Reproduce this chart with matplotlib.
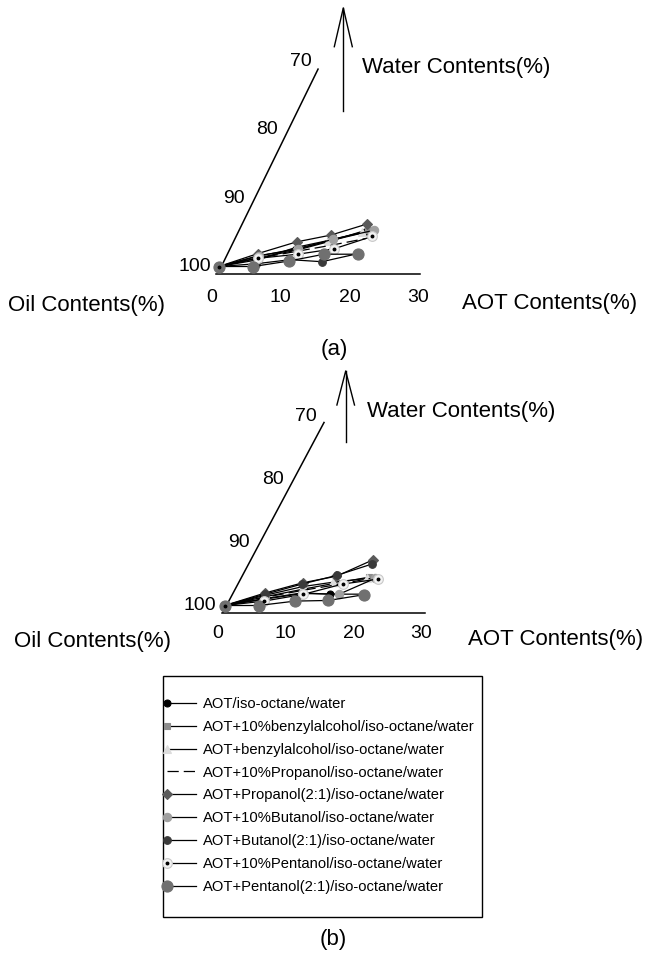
import numpy as np
import matplotlib
matplotlib.use("Agg")
import matplotlib.pyplot as plt
from matplotlib.lines import Line2D
from matplotlib.patches import Rectangle
from matplotlib.legend_handler import HandlerLine2D

plt.rcParams["font.family"] = ["Liberation Sans", "DejaVu Sans"]

W_PX, H_PX = 645, 968

LABELS = [
    "AOT/iso-octane/water",
    "AOT+10%benzylalcohol/iso-octane/water",
    "AOT+benzylalcohol/iso-octane/water",
    "AOT+10%Propanol/iso-octane/water",
    "AOT+Propanol(2:1)/iso-octane/water",
    "AOT+10%Butanol/iso-octane/water",
    "AOT+Butanol(2:1)/iso-octane/water",
    "AOT+10%Pentanol/iso-octane/water",
    "AOT+Pentanol(2:1)/iso-octane/water",
]
OIL_TICKS = [100, 90, 80, 70]
AOT_TICKS = [0, 10, 20, 30]

# panel (a): AOT content and water content of each point
AOT_A = [
    [1, 6.7, 12.2, 17.3, 22.3],
    [1, 6.8, 12.4, 17.2, 22.7],
    [1, 6.8, 12.2, 16.9, 21.8],
    [1, 6.7, 12.2, 17.3, 22.4],
    [1, 6.7, 12.3, 17.3, 22.5],
    [1, 6.8, 12.5, 17.6, 23.6],
    [1, 6.4, 11.4, 16.0, 21.3],
    [1, 6.7, 12.5, 17.8, 23.3],
    [1, 6.0, 11.2, 16.3, 21.3],
]
WATER_A = [
    [0, 1.5, 2.6, 3.8, 5.0],
    [0, 1.3, 2.4, 3.7, 5.4],
    [0, 1.0, 2.8, 3.8, 5.0],
    [0, 1.2, 2.2, 3.1, 4.1],
    [0, 1.9, 3.6, 4.6, 6.2],
    [0, 1.6, 2.5, 4.0, 5.3],
    [0, 0.4, 1.0, 0.7, 1.9],
    [0, 1.2, 1.8, 2.6, 4.4],
    [0, 0.0, 0.8, 1.8, 1.8],
]

# panel (b)
AOT_B = [
    [1, 6.9, 12.4, 16.6, 21.5],
    [1, 7.0, 12.6, 17.6, 22.3],
    [1, 6.9, 12.5, 17.0, 22.0],
    [1, 6.9, 12.5, 17.5, 22.5],
    [1, 7.0, 12.5, 17.5, 22.9],
    [1, 6.9, 12.4, 17.9, 23.2],
    [1, 7.0, 12.4, 17.6, 22.8],
    [1, 6.8, 12.5, 18.4, 23.7],
    [1, 6.0, 11.4, 16.3, 21.5],
]
WATER_B = [
    [0, 1.1, 2.0, 1.8, 1.8],
    [0, 1.4, 2.6, 3.6, 4.5],
    [0, 1.6, 3.0, 3.7, 4.3],
    [0, 1.3, 2.4, 3.3, 4.3],
    [0, 2.0, 3.6, 4.65, 7.25],
    [0, 1.0, 1.9, 1.8, 4.3],
    [0, 1.8, 3.4, 4.8, 6.6],
    [0, 0.7, 1.75, 3.4, 4.2],
    [0, 0.0, 0.7, 0.8, 1.7],
]

STYLES = [
    dict(marker="o", mfc="black", mec="black", ms=5),
    dict(marker="s", mfc="#8c8c8c", mec="#8c8c8c", ms=5),
    dict(marker="^", mfc="#dcdcdc", mec="#dcdcdc", ms=6),
    dict(marker="None", ls=(0, (9, 4))),
    dict(marker="D", mfc="#5a5a5a", mec="#5a5a5a", ms=5.5),
    dict(marker="o", mfc="#a0a0a0", mec="#a0a0a0", ms=6),
    dict(marker="o", mfc="#3a3a3a", mec="#3a3a3a", ms=5.5),
    dict(marker="o", mfc="#f2f2f2", mec="#c8c8c8", ms=7),
    dict(marker="o", mfc="#707070", mec="#707070", ms=8),
]
DOT_IDX = 7  # 10% pentanol has a dark centre dot

# pixel geometry of each panel
PANEL_A = dict(x0=212, y0=266.5, sx=6.87, sy=6.83, box=(150, 0, 450, 300),
               ob_a=1.46, ob_w0=0.2, ob_w1=28.9, slope=0.487,
               base_w=-1.1, base_a=(0.58, 30.28), tick_w=-4.47)
PANEL_B = dict(x0=218, y0=605.5, sx=6.77, sy=6.3, box=(150, 330, 450, 640),
               ob_a=0.74, ob_w0=-1.03, ob_w1=29.05, slope=0.496,
               base_w=-1.24, base_a=(0.55, 30.6), tick_w=-4.41)


class LeftMarkerHandler(HandlerLine2D):
    """Legend entry with the marker at the left end of the line sample."""

    def create_artists(self, legend, orig_handle, xdescent, ydescent,
                       width, height, fontsize, trans):
        artists = super().create_artists(legend, orig_handle, xdescent, ydescent,
                                         width, height, fontsize, trans)
        for art in artists:
            if art.get_marker() not in (None, "None", "none", ""):
                art.set_markevery([0])
        return artists


def fx(px):
    return px / W_PX


def fy(py):
    return 1 - py / H_PX


def draw_panel(fig, g, aot, water):
    l, t, r, b = g["box"]
    ax = fig.add_axes([fx(l), fy(b), (r - l) / W_PX, (b - t) / H_PX])
    ax.set_xlim((l - g["x0"]) / g["sx"], (r - g["x0"]) / g["sx"])
    ax.set_ylim((g["y0"] - b) / g["sy"], (g["y0"] - t) / g["sy"])
    ax.axis("off")

    # oblique oil axis
    w = np.array([g["ob_w0"], g["ob_w1"]])
    ax.plot(g["ob_a"] + g["slope"] * (w - g["ob_w0"]), w, color="black", lw=1.1,
            clip_on=False)
    for oil in OIL_TICKS:
        wv = 100 - oil
        a = g["ob_a"] + g["slope"] * (wv - g["ob_w0"]) - 10 / g["sx"]
        ax.text(a, wv, str(oil), ha="right", va="center", fontsize=14)

    # AOT axis
    ax.plot(g["base_a"], [g["base_w"], g["base_w"]], color="black", lw=1.1,
            clip_on=False)
    for tk in AOT_TICKS:
        ax.text(tk, g["tick_w"], str(tk), ha="center", va="center", fontsize=14)

    handles = []
    for i in range(len(LABELS)):
        st = dict(STYLES[i])
        ls = st.pop("ls", "-")
        line, = ax.plot(aot[i], water[i], color="black", lw=0.9, ls=ls,
                        markeredgewidth=0.8, clip_on=False, zorder=3 + i * 0.01, **st)
        if i == DOT_IDX:
            dot, = ax.plot(aot[i], water[i], ls="none", marker="o", ms=1.8,
                           mfc="black", mec="black", clip_on=False, zorder=3.5)
            handles.append((line, dot))
        else:
            handles.append(line)
    return ax, handles


def arrow(fig, x, y_top, y_bot, y_head, half):
    kw = dict(transform=fig.transFigure, color="black", lw=1.0)
    fig.add_artist(Line2D([fx(x), fx(x)], [fy(y_bot), fy(y_top)], **kw))
    fig.add_artist(Line2D([fx(x - half), fx(x), fx(x + half)],
                          [fy(y_head), fy(y_top), fy(y_head)], **kw))


fig = plt.figure(figsize=(W_PX / 100, H_PX / 100), dpi=100)

ax_a, handles = draw_panel(fig, PANEL_A, AOT_A, WATER_A)
ax_b, _ = draw_panel(fig, PANEL_B, AOT_B, WATER_B)

title_fs = 16
for (xw, yw, xo, yo, xt, yt) in [
    (362, 68, 8, 306, 462, 303),
    (367, 412, 14, 641, 468, 640),
]:
    fig.text(fx(xw), fy(yw), "Water Contents(%)", ha="left", va="center", fontsize=title_fs)
    fig.text(fx(xo), fy(yo), "Oil Contents(%)", ha="left", va="center", fontsize=title_fs)
    fig.text(fx(xt), fy(yt), "AOT Contents(%)", ha="left", va="center", fontsize=title_fs)

fig.text(fx(334), fy(349), "(a)", ha="center", va="center", fontsize=title_fs)
fig.text(fx(333), fy(940), "(b)", ha="center", va="center", fontsize=title_fs)

arrow(fig, 343.3, 8, 111, 46.7, 9)
arrow(fig, 345.7, 371, 441.7, 405, 8.8)

# legend box and entries
fig.add_artist(Rectangle((fx(163), fy(917)), 319 / W_PX, 241 / H_PX,
                         transform=fig.transFigure, fill=False, lw=1.0, ec="black"))
fig.legend(handles, LABELS, loc="upper left", bbox_to_anchor=(fx(167), fy(697)),
           bbox_transform=fig.transFigure, frameon=False, borderpad=0,
           borderaxespad=0, handlelength=2.0, handletextpad=0.42, labelspacing=0.6,
           fontsize=10.6, handler_map={Line2D: LeftMarkerHandler()})

fig.savefig("out.png", dpi=100)
